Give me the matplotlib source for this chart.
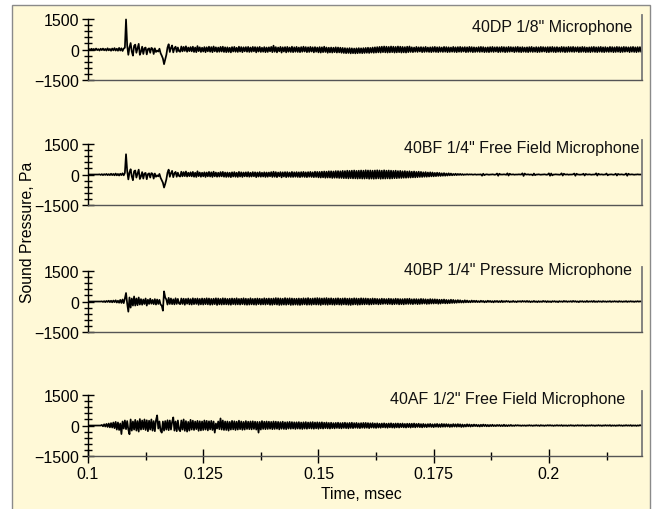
import numpy as np
import matplotlib
matplotlib.use("Agg")
import matplotlib.pyplot as plt
from matplotlib.patches import Rectangle
from matplotlib.ticker import FixedLocator, MultipleLocator

plt.rcParams['font.family'] = ['Liberation Sans', 'DejaVu Sans']

# sampled waveforms, Pa, one sample every 0.00025 msec starting at 0.1 msec
# (each line below = 20 samples = 0.005 msec)
t_start = 0.1
dt = 0.00025

mic_names = ['40DP 1/8" Microphone',
             '40BF 1/4" Free Field Microphone',
             '40BP 1/4" Pressure Microphone',
             '40AF 1/2" Free Field Microphone']

p_40dp = [
    0, 20, -30, 40, -20, 30, -40, 50, -30, 20, -50, 40, -30, 50, -40, 30, -50, 60, -40, 30,
    -60, 50, -40, 70, -50, 40, -60, 80, -50, 60, -70, 50, 90, 1480, 200, -260, 100, 320, -100, -300,
    180, 240, -160, 60, 280, -260, -100, 140, -220, 60, 100, -240, 20, 60, -160, 80, 40, -220, 60, -120,
    -50, -100, 40, -180, -300, -440, -720, -500, -260, 100, 260, -120, 80, 200, -140, 60, 140, -120, 100, -80,
    -110, 150, -90, 130, -70, 160, -110, 100, -80, 120, -90, 140, -120, 100, -130, 170, -80, 110, -120, 90,
    -100, 120, -130, 110, -90, 140, -110, 120, -130, 150, -90, 110, -120, 100, -110, 130, -100, 140, -120, 110,
    -130, 110, -120, 90, -140, 120, -100, 130, -110, 90, -120, 140, -100, 120, -130, 110, -90, 120, -110, 130,
    -120, 100, -110, 130, -90, 120, -140, 110, -100, 130, -120, 90, -110, 120, -130, 100, -120, 110, -90, 130,
    -130, 190, -110, 120, -140, 100, -90, 130, -150, 110, -100, 120, -140, 130, -110, 100, -120, 140, -130, 110,
    -110, 130, -120, 100, -130, 120, -110, 140, -100, 120, -130, 110, -120, 130, -100, 110, -140, 120, -110, 100,
    -140, 120, -150, 110, -130, 140, -120, 100, -160, 90, -140, 100, -150, 90, -130, 110, -150, 100, -140, 90,
    -160, 80, -170, 70, -180, 60, -170, 70, -190, 60, -180, 50, -190, 60, -180, 70, -170, 60, -180, 70,
    -170, 80, -160, 90, -170, 80, -150, 100, -160, 110, -150, 120, -140, 130, -150, 140, -130, 150, -140, 140,
    -150, 130, -140, 150, -130, 140, -150, 130, -140, 150, -130, 140, -150, 130, -140, 120, -150, 140, -130, 150,
    -120, 110, -130, 100, -110, 130, -120, 110, -100, 120, -130, 110, -120, 130, -110, 100, -120, 110, -130, 120,
    -110, 130, -120, 110, -130, 120, -110, 100, -120, 130, -110, 120, -130, 110, -120, 100, -110, 130, -120, 110,
    -130, 120, -110, 130, -120, 110, -100, 120, -130, 110, -120, 130, -110, 120, -130, 110, -120, 100, -110, 120,
    -120, 130, -110, 120, -130, 100, -120, 110, -130, 120, -110, 130, -120, 110, -100, 120, -130, 110, -120, 130,
    -110, 120, -130, 110, -120, 130, -110, 120, -100, 110, -130, 120, -110, 130, -120, 110, -130, 120, -110, 100,
    -120, 110, -130, 120, -110, 130, -120, 100, -110, 120, -130, 110, -120, 130, -110, 120, -100, 110, -130, 120,
    -130, 120, -110, 130, -120, 110, -130, 120, -110, 100, -120, 130, -110, 120, -130, 110, -120, 130, -110, 120,
    -110, 130, -120, 110, -100, 120, -130, 110, -120, 130, -110, 120, -130, 100, -120, 110, -130, 120, -110, 130,
    -120, 110, -130, 120, -110, 130, -120, 110, -130, 120, -110, 100, -120, 130, -110, 120, -130, 110, -120, 130,
    -110, 120, -130, 110, -120, 130, -110, 120, -100, 110, -130, 120, -110, 130, -120, 110, -130, 120, -110, 120,
    -100,
]

p_40bf = [
    0, 0, 0, 0, 0, 0, 0, 0, 0, 0, 10, -20, 20, -30, 20, -20, 30, -30, 20, -30,
    40, -30, 30, -40, 50, -40, 30, -50, 40, -30, 60, -40, 80, 1000, 180, -240, 100, 260, -90, -280,
    160, 200, -150, 50, 240, -220, -90, 120, -200, 50, 80, -230, 20, 60, -150, 70, 40, -200, 50, -110,
    -40, -90, 30, -160, -280, -400, -640, -460, -240, 90, 240, -110, 70, 180, -130, 50, 130, -110, 90, -70,
    -100, 140, -90, 120, -80, 150, -100, 90, -80, 110, -90, 130, -110, 90, -120, 160, -80, 100, -110, 90,
    -90, 110, -120, 100, -90, 130, -100, 110, -120, 140, -90, 100, -110, 90, -100, 120, -90, 130, -110, 100,
    -120, 100, -110, 90, -130, 110, -100, 120, -110, 90, -120, 130, -100, 110, -120, 100, -90, 110, -100, 120,
    -110, 90, -100, 120, -90, 110, -130, 100, -100, 120, -110, 90, -100, 110, -120, 100, -110, 100, -90, 120,
    -120, 140, -110, 120, -130, 100, -90, 120, -140, 110, -100, 120, -130, 120, -110, 100, -120, 130, -120, 110,
    -110, 120, -120, 110, -130, 120, -110, 130, -120, 110, -130, 120, -110, 130, -120, 110, -130, 140, -120, 130,
    -140, 130, -150, 140, -140, 150, -160, 140, -150, 160, -150, 160, -170, 150, -160, 170, -160, 170, -170, 160,
    -170, 180, -180, 170, -180, 190, -190, 180, -180, 190, -190, 200, -190, 180, -200, 190, -190, 200, -200, 190,
    -200, 210, -190, 200, -210, 200, -200, 190, -210, 200, -200, 210, -190, 200, -210, 190, -200, 210, -200, 190,
    -190, 200, -200, 190, -190, 180, -180, 190, -180, 170, -170, 180, -170, 160, -160, 170, -160, 150, -150, 160,
    -150, 140, -140, 150, -140, 130, -130, 140, -120, 130, -120, 110, -110, 120, -110, 100, -100, 110, -90, 100,
    -90, 80, -80, 90, -70, 80, -70, 60, -60, 70, -60, 50, -50, 60, -40, 50, -40, 30, -30, 40,
    -30, 30, -20, 30, -20, 20, -20, 10, -10, 20, -10, 10, 0, 10, -10, 0, 10, -10, 0, 0,
    0, 10, -60, 40, -30, 0, 10, 0, -10, 0, 0, 10, 0, -10, 0, 50, -60, 40, 0, 0,
    0, 10, 0, -10, 60, -50, 40, 0, 0, 10, -10, 0, 0, 0, 10, 0, 0, 60, -70, 50,
    0, 0, 10, -10, 0, 0, -40, 50, -30, 0, 0, 10, 0, -10, 0, 0, 10, 0, -10, 0,
    60, -60, 50, -40, 0, 0, 10, 0, 0, -10, 0, 60, -50, 40, 0, 0, 10, -10, 0, 0,
    0, 10, 50, -60, 40, 0, 0, -10, 0, 0, 40, -50, 30, 0, 0, 10, 0, -10, 0, 0,
    0, 60, -50, 40, 0, 0, 10, -10, 0, 0, 50, -40, 0, 0, 10, 0, -10, 0, 40, -50,
    30, 0, 0, 10, 0, -10, 0, 50, -60, 40, 0, 0, 10, 0, -10, 0, 0, 10, 0, 0,
    0,
]

p_40bp = [
    0, 0, 0, 0, 0, 0, 0, 0, 0, 0, 0, 0, 10, -20, 20, -30, 30, -20, 40, -30,
    40, -40, 50, -30, 60, -50, 40, -60, 80, -70, 100, -80, 150, 420, -100, -500, 200, -300, 150, -200,
    250, -200, 150, -180, 200, -150, 120, -160, 100, -120, 150, -200, 90, -120, 140, -110, 80, -130, 120, -150,
    100, -120, 80, -150, -200, -450, 500, 200, 100, -150, 180, -120, 150, -130, 110, -140, 160, -120, 130, -100,
    -130, 150, -120, 140, -160, 130, -110, 150, -140, 120, -150, 160, -130, 140, -120, 150, -160, 130, -140, 150,
    -150, 140, -130, 160, -140, 150, -160, 130, -150, 140, -130, 160, -170, 150, -140, 130, -150, 160, -140, 150,
    -140, 130, -150, 140, -160, 150, -130, 140, -150, 160, -140, 130, -150, 140, -130, 160, -150, 140, -160, 130,
    -150, 160, -140, 130, -150, 140, -160, 150, -130, 140, -150, 130, -140, 160, -150, 140, -130, 150, -160, 140,
    -160, 150, -140, 170, -150, 160, -170, 150, -160, 140, -150, 170, -160, 150, -140, 160, -170, 150, -160, 140,
    -150, 140, -160, 150, -170, 140, -150, 160, -140, 150, -160, 170, -150, 140, -160, 150, -140, 160, -150, 170,
    -150, 160, -170, 150, -140, 160, -150, 170, -160, 150, -140, 160, -150, 140, -160, 150, -140, 160, -150, 140,
    -160, 150, -140, 160, -150, 140, -160, 150, -170, 140, -150, 160, -140, 150, -160, 140, -150, 160, -140, 150,
    -140, 150, -130, 140, -150, 130, -140, 150, -130, 140, -120, 130, -140, 120, -130, 140, -120, 130, -110, 120,
    -130, 140, -120, 130, -140, 120, -130, 140, -120, 130, -140, 120, -130, 120, -140, 130, -120, 130, -120, 140,
    -120, 110, -130, 120, -110, 120, -130, 110, -120, 130, -110, 120, -100, 110, -120, 100, -110, 120, -100, 110,
    -100, 110, -90, 100, -110, 90, -100, 90, -80, 100, -90, 80, -90, 70, -80, 90, -70, 80, -70, 60,
    -60, 70, -50, 60, -50, 40, -50, 60, -40, 50, -40, 30, -40, 50, -30, 40, -30, 40, -30, 20,
    -30, 40, -20, 30, -40, 20, -30, 40, -20, 30, -30, 20, -40, 30, -20, 30, -30, 20, -30, 40,
    -30, 20, -20, 30, -10, 20, -30, 10, -20, 30, -20, 10, -30, 20, -10, 20, -20, 30, -10, 20,
    -20, 30, -20, 20, -30, 10, -20, 30, -20, 10, -30, 20, -20, 10, -20, 30, -10, 20, -30, 20,
    -20, 10, -30, 20, -10, 20, -20, 10, -30, 20, -10, 10, -20, 30, -10, 20, -20, 10, -10, 20,
    -20, 30, -10, 20, -20, 10, -30, 20, -10, 20, -20, 10, -20, 30, -20, 10, -10, 20, -20, 30,
    -20, 10, -20, 20, -10, 10, -20, 20, -10, 10, -20, 10, -10, 20, -20, 10, -10, 20, -10, 10,
    -20, 20, -10, 10, -20, 10, -10, 20, -20, 10, -10, 20, -10, 10, -20, 10, -10, 20, -10, 10,
    0,
]

p_40af = [
    0, 0, 0, 0, 0, 0, 0, 0, 0, 0, 0, 0, 30, -40, 60, -50, 80, -70, 100, -90,
    120, -100, 150, -130, 180, -200, 150, -220, 100, -420, 200, -150, 250, -180, 220, -200, -430, 300, -250, 200,
    -200, 280, -250, 220, -300, 320, -200, 250, -180, 300, -220, 260, -280, 240, -200, 300, -250, 220, -280, 260,
    500, -150, 200, -250, -350, 200, -250, 220, -200, 260, -230, 250, -200, 180, 400, -250, 200, -280, 250, -200,
    -280, 250, -200, 300, -260, 220, -300, 180, -250, 280, -200, 240, -220, 200, -180, 230, -260, 210, -240, 200,
    -220, 250, -200, 230, -240, 210, -190, 230, -220, 200, -350, 100, -150, 200, -180, 350, -200, 250, -220, 200,
    -220, 200, -250, 180, -200, 230, -190, 210, -220, 190, -200, 240, -180, 200, -210, 180, -200, 220, -170, 190,
    -180, 200, -190, 210, -170, 190, -200, 180, -350, 180, -200, 220, -170, 190, -180, 200, -170, 190, -160, 180,
    -180, 200, -170, 190, -160, 180, -190, 170, -160, 190, -170, 160, -180, 170, -150, 180, -160, 170, -150, 160,
    -170, 160, -150, 170, -160, 150, -170, 160, -150, 170, -160, 150, -140, 160, -150, 170, -160, 150, -140, 160,
    -160, 150, -140, 160, -150, 140, -130, 150, -140, 130, -150, 140, -130, 120, -140, 130, -120, 140, -130, 120,
    -140, 130, -120, 140, -130, 120, -140, 130, -120, 140, -130, 120, -110, 130, -120, 110, -130, 120, -110, 130,
    -120, 130, -110, 120, -130, 110, -100, 120, -110, 100, -120, 110, -100, 90, -110, 100, -90, 110, -100, 90,
    -110, 100, -90, 110, -100, 90, -110, 100, -90, 100, -100, 90, -80, 100, -90, 80, -100, 90, -80, 90,
    -100, 90, -80, 100, -90, 80, -70, 90, -80, 70, -90, 80, -70, 60, -80, 70, -60, 80, -70, 60,
    -80, 70, -60, 80, -70, 60, -70, 80, -60, 70, -60, 70, -50, 60, -70, 50, -60, 70, -50, 60,
    -60, 70, -50, 60, -70, 50, -60, 40, -50, 60, -40, 50, -50, 40, -40, 50, -30, 40, -40, 30,
    -50, 40, -40, 50, -30, 40, -40, 30, -40, 30, -30, 40, -30, 20, -30, 30, -20, 30, -30, 20,
    -30, 40, -30, 20, -30, 20, -20, 30, -20, 10, -20, 20, -10, 20, -10, 10, -20, 10, -10, 10,
    -20, 10, -10, 20, -10, 10, -20, 10, -10, 20, -10, 10, -20, 20, -10, 10, -20, 10, -10, 20,
    -10, 20, -10, 10, -20, 10, -10, 20, -10, 10, -10, 20, -20, 10, -10, 10, -20, 10, -10, 20,
    -10, 10, -20, 10, -10, 20, -10, 10, -10, 20, -10, 10, -20, 10, -10, 10, -10, 20, -10, 10,
    -20, 10, -10, 20, -10, 10, -20, 10, -10, 20, -10, 10, -10, 20, -20, 10, -10, 10, -20, 10,
    -10, 20, -10, 10, -20, 10, -10, 20, -10, 10, -10, 20, -20, 10, -10, 10, -20, 10, -10, 20,
    0,
]

traces = [p_40dp, p_40bf, p_40bp, p_40af]

x_ticks = [0.1, 0.125, 0.15, 0.175, 0.2]
x_tick_labels = ['0.1', '0.125', '0.15', '0.175', '0.2']
y_ticks = [-1500, 0, 1500]

cream = '#FFF9D7'

fig = plt.figure(figsize=(6.54, 5.10), dpi=100)
fig.patch.set_facecolor('white')
fig.patches.append(Rectangle((12 / 654, -0.01), 638 / 654, 504 / 510 + 0.01,
                             transform=fig.transFigure, facecolor=cream,
                             edgecolor='#8a8a8a', lw=1.0, zorder=-10))

# axes layout in pixels (bottom edge of each panel)
bottoms_px = [81, 206, 333, 457]
title_y = [0.823, 0.88, 0.955, 0.877]
title_x = [0.982, 0.995, 0.982, 0.969]

for k, (vals, name) in enumerate(zip(traces, mic_names)):
    ax = fig.add_axes([88 / 654, 1 - bottoms_px[k] / 510, 554 / 654, 65 / 510])
    ax.set_facecolor('none')
    t = t_start + dt * np.arange(len(vals))
    ax.plot(t, vals, color='black', lw=1.25)
    ax.set_xlim(0.1, 0.2202)
    ax.set_ylim(-1500, 1700)

    ax.spines['top'].set_visible(False)
    ax.spines['left'].set_bounds(-1500, 1500)
    ax.spines['left'].set_color('black')
    ax.spines['left'].set_linewidth(1.0)
    ax.spines['right'].set_color('#7a7a7a')
    ax.spines['right'].set_linewidth(1.3)
    ax.spines['bottom'].set_color('#555555')
    ax.spines['bottom'].set_linewidth(1.0)

    ax.yaxis.set_major_locator(FixedLocator(y_ticks))
    ax.yaxis.set_minor_locator(MultipleLocator(300))
    ax.set_yticklabels(['\u22121500', '0', '1500'])
    ax.tick_params(axis='y', which='major', direction='inout', length=9, width=1.0,
                   labelsize=11.5, pad=2)
    ax.tick_params(axis='y', which='minor', direction='inout', length=6, width=1.0)

    if k == 3:
        ax.xaxis.set_major_locator(FixedLocator(x_ticks))
        ax.xaxis.set_minor_locator(MultipleLocator(0.0125))
        ax.set_xticklabels(x_tick_labels)
        ax.tick_params(axis='x', which='major', direction='inout', length=10, width=1.0,
                       labelsize=11.5, pad=2)
        ax.tick_params(axis='x', which='minor', direction='inout', length=6, width=1.0)
    else:
        ax.set_xticks([])
        ax.xaxis.set_minor_locator(FixedLocator([]))

    ax.text(title_x[k], title_y[k], name, transform=ax.transAxes,
            ha='right', va='center', fontsize=11.5, color='#111111', clip_on=False)

fig.text(27 / 654, 1 - 232 / 510, 'Sound Pressure, Pa', rotation=90,
         ha='center', va='center', fontsize=11.3)
fig.text(361 / 654, 1 - 495 / 510, 'Time, msec', ha='center', va='center', fontsize=11.3)

fig.savefig('out.png', dpi=100, facecolor=fig.get_facecolor())
